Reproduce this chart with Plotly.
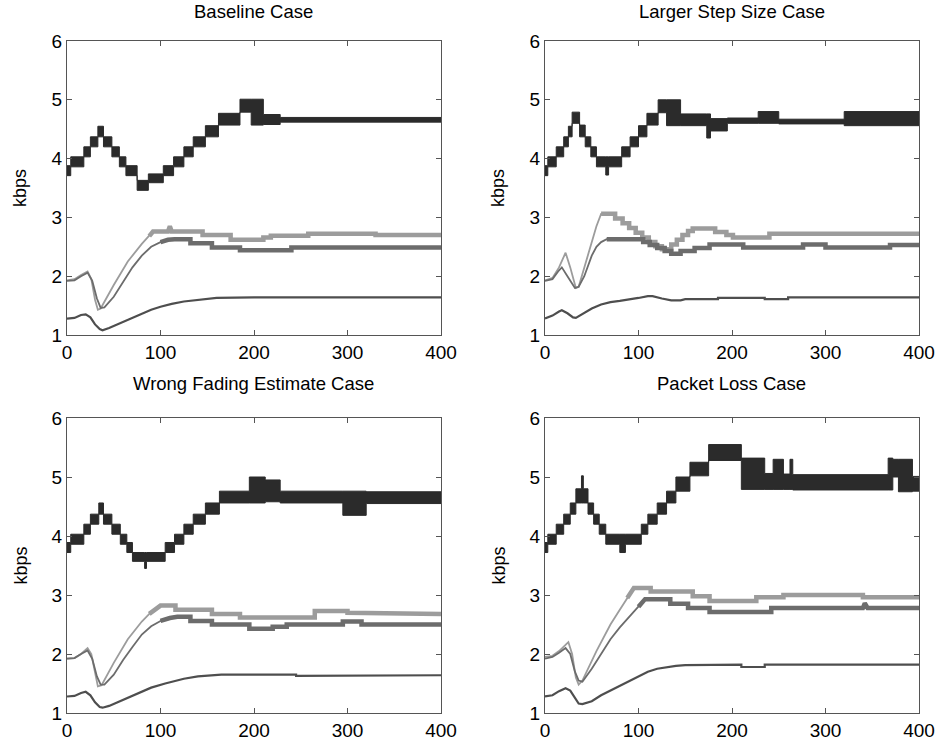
import plotly.graph_objects as go
import numpy as np

FONT = "Liberation Sans, Arial, Helvetica, sans-serif"
XMAX = 400
titles = ["Baseline Case", "Larger Step Size Case", "Wrong Fading Estimate Case", "Packet Loss Case"]
x_ticks = [0, 100, 200, 300, 400]
y_ticks = [1, 2, 3, 4, 5, 6]
y_label = "kbps"

# ---------------- Baseline Case ----------------
base_top_x  = [0, 4, 18, 25, 33, 39, 48, 56, 63, 75, 87, 103, 114, 125, 135, 148, 162, 185, 197, 210, 228]
base_top_lo = [3.71, 3.86, 4.03, 4.20, 4.37, 4.20, 4.03, 3.86, 3.71, 3.46, 3.59, 3.71, 3.86, 4.03, 4.20, 4.37, 4.57, 4.79, 4.57, 4.58, 4.62]
base_top_hi = [3.88, 4.03, 4.20, 4.37, 4.55, 4.37, 4.20, 4.03, 3.88, 3.63, 3.74, 3.88, 4.03, 4.20, 4.37, 4.56, 4.77, 5.01, 5.01, 4.75, 4.70]
base_light_x = [0, 8, 15, 22, 26, 30, 33, 36, 50, 65, 80, 88, 92, 108, 110, 112, 145, 145, 175, 175, 210, 210, 218, 218, 258, 258, 330, 330, 400]
base_light_y = [1.93, 1.95, 2.02, 2.08, 1.95, 1.60, 1.43, 1.45, 1.85, 2.25, 2.55, 2.68, 2.76, 2.76, 2.85, 2.76, 2.76, 2.70, 2.70, 2.62, 2.62, 2.66, 2.66, 2.69, 2.69, 2.72, 2.72, 2.70, 2.70]
base_mid_x = [0, 8, 15, 22, 27, 32, 36, 40, 50, 60, 70, 80, 90, 100, 108, 115, 132, 132, 155, 155, 185, 185, 240, 240, 400]
base_mid_y = [1.92, 1.93, 2.00, 2.06, 1.92, 1.62, 1.46, 1.47, 1.65, 1.90, 2.15, 2.35, 2.50, 2.58, 2.62, 2.63, 2.63, 2.56, 2.56, 2.49, 2.49, 2.44, 2.44, 2.49, 2.49]
base_low_x = [0, 8, 15, 20, 25, 30, 35, 38, 45, 60, 75, 90, 100, 112, 125, 140, 160, 200, 400]
base_low_y = [1.28, 1.29, 1.34, 1.35, 1.30, 1.18, 1.10, 1.08, 1.12, 1.22, 1.33, 1.43, 1.48, 1.53, 1.57, 1.60, 1.63, 1.64, 1.64]

# ---------------- Larger Step Size Case ----------------
step_top_x  = [0, 3, 12, 20, 25, 29, 37, 43, 49, 55, 65, 68, 82, 91, 100, 109, 121, 130, 145, 173, 177, 195, 228, 250, 320]
step_top_lo = [3.71, 3.86, 4.03, 4.20, 4.37, 4.60, 4.37, 4.20, 4.03, 3.86, 3.72, 3.86, 4.03, 4.20, 4.37, 4.57, 4.78, 4.56, 4.56, 4.35, 4.47, 4.60, 4.60, 4.59, 4.56]
step_top_hi = [3.88, 4.03, 4.20, 4.37, 4.55, 4.79, 4.57, 4.37, 4.20, 4.03, 4.03, 4.03, 4.20, 4.37, 4.56, 4.77, 5.00, 5.00, 4.76, 4.76, 4.68, 4.69, 4.80, 4.67, 4.80]
step_light_x = [0, 8, 15, 22, 27, 33, 36, 45, 55, 60, 75, 75, 83, 83, 90, 90, 97, 97, 104, 104, 111, 111, 118, 118, 125, 125, 135, 135, 141, 141, 147, 147, 153, 153, 158, 158, 182, 182, 194, 194, 201, 201, 240, 240, 400]
step_light_y = [1.93, 1.97, 2.15, 2.40, 2.15, 1.80, 1.82, 2.30, 2.85, 3.06, 3.06, 2.98, 2.98, 2.90, 2.90, 2.82, 2.82, 2.74, 2.74, 2.66, 2.66, 2.58, 2.58, 2.51, 2.51, 2.46, 2.46, 2.54, 2.54, 2.62, 2.62, 2.70, 2.70, 2.77, 2.77, 2.81, 2.81, 2.75, 2.75, 2.70, 2.70, 2.66, 2.66, 2.72, 2.72]
step_mid_x = [0, 8, 14, 18, 24, 32, 36, 42, 50, 55, 60, 66, 100, 105, 105, 112, 112, 120, 120, 128, 128, 135, 135, 145, 145, 160, 160, 176, 176, 212, 212, 276, 276, 300, 300, 369, 369, 400]
step_mid_y = [1.92, 1.95, 2.08, 2.15, 2.00, 1.80, 1.82, 2.00, 2.35, 2.50, 2.58, 2.63, 2.63, 2.63, 2.58, 2.58, 2.53, 2.53, 2.48, 2.48, 2.43, 2.43, 2.38, 2.38, 2.43, 2.43, 2.48, 2.48, 2.54, 2.54, 2.49, 2.49, 2.54, 2.54, 2.49, 2.49, 2.53, 2.53]
step_low_x = [0, 8, 15, 18, 24, 30, 33, 40, 50, 60, 70, 80, 90, 100, 110, 115, 125, 135, 145, 150, 185, 185, 235, 235, 260, 260, 400]
step_low_y = [1.28, 1.33, 1.40, 1.42, 1.37, 1.30, 1.29, 1.35, 1.45, 1.52, 1.56, 1.58, 1.60, 1.63, 1.66, 1.66, 1.62, 1.59, 1.59, 1.61, 1.61, 1.63, 1.63, 1.61, 1.61, 1.64, 1.64]

# ---------------- Wrong Fading Estimate Case ----------------
fade_top_x  = [0, 4, 18, 25, 34, 39, 48, 57, 64, 70, 83, 85, 105, 115, 125, 135, 148, 163, 195, 212, 228, 295, 320]
fade_top_lo = [3.72, 3.86, 4.03, 4.20, 4.37, 4.20, 4.03, 3.86, 3.72, 3.57, 3.45, 3.57, 3.72, 3.86, 4.03, 4.20, 4.37, 4.56, 4.56, 4.58, 4.56, 4.35, 4.55]
fade_top_hi = [3.89, 4.03, 4.20, 4.37, 4.56, 4.37, 4.20, 4.03, 3.89, 3.72, 3.72, 3.72, 3.89, 4.03, 4.20, 4.37, 4.56, 4.76, 5.00, 4.95, 4.76, 4.76, 4.75]
fade_light_x = [0, 8, 15, 22, 26, 30, 33, 37, 50, 65, 80, 88, 95, 100, 116, 116, 155, 155, 185, 185, 265, 265, 300, 300, 400]
fade_light_y = [1.92, 1.93, 2.00, 2.10, 2.00, 1.65, 1.45, 1.47, 1.85, 2.25, 2.55, 2.68, 2.77, 2.82, 2.82, 2.75, 2.75, 2.68, 2.68, 2.62, 2.62, 2.73, 2.73, 2.70, 2.68]
fade_mid_x = [0, 8, 15, 22, 27, 32, 36, 40, 50, 60, 70, 80, 90, 100, 110, 118, 132, 132, 155, 155, 195, 195, 220, 220, 235, 235, 295, 295, 315, 315, 400]
fade_mid_y = [1.92, 1.93, 2.00, 2.06, 1.92, 1.62, 1.48, 1.48, 1.65, 1.90, 2.12, 2.33, 2.47, 2.56, 2.61, 2.63, 2.63, 2.56, 2.56, 2.50, 2.50, 2.43, 2.43, 2.46, 2.46, 2.50, 2.50, 2.55, 2.55, 2.50, 2.50]
fade_low_x = [0, 8, 15, 20, 25, 30, 35, 38, 45, 60, 75, 90, 105, 115, 125, 140, 165, 245, 245, 400]
fade_low_y = [1.28, 1.29, 1.34, 1.36, 1.30, 1.18, 1.10, 1.09, 1.12, 1.22, 1.33, 1.43, 1.50, 1.54, 1.58, 1.62, 1.65, 1.65, 1.63, 1.64]

# ---------------- Packet Loss Case ----------------
loss_top_x  = [0, 3, 12, 20, 27, 33, 39, 41, 46, 52, 58, 65, 80, 86, 103, 110, 120, 130, 140, 155, 175, 210, 235, 244, 255, 262, 265, 367, 372, 378, 393]
loss_top_lo = [3.72, 3.86, 4.03, 4.20, 4.37, 4.56, 4.56, 4.56, 4.37, 4.20, 4.03, 3.86, 3.72, 3.86, 4.03, 4.20, 4.37, 4.56, 4.76, 5.02, 5.28, 4.79, 4.79, 4.79, 4.79, 4.79, 4.78, 4.78, 5.00, 4.75, 4.76]
loss_top_hi = [3.89, 4.03, 4.20, 4.37, 4.56, 4.80, 5.02, 4.80, 4.56, 4.37, 4.20, 4.03, 4.03, 4.03, 4.20, 4.37, 4.56, 4.76, 5.00, 5.25, 5.55, 5.32, 5.06, 5.30, 5.05, 5.30, 5.04, 5.32, 5.30, 5.30, 5.01]
loss_light_x = [0, 8, 15, 25, 29, 33, 36, 40, 55, 70, 80, 88, 92, 95, 113, 113, 158, 158, 176, 176, 226, 226, 255, 255, 340, 340, 400]
loss_light_y = [1.95, 1.97, 2.05, 2.20, 2.00, 1.60, 1.48, 1.55, 2.05, 2.50, 2.75, 2.95, 3.05, 3.12, 3.12, 3.06, 3.06, 2.98, 2.98, 2.90, 2.90, 2.96, 2.96, 3.00, 3.00, 2.96, 2.96]
loss_mid_x = [0, 8, 15, 22, 27, 32, 36, 40, 50, 60, 70, 80, 90, 100, 107, 134, 134, 153, 153, 176, 176, 242, 242, 340, 342, 345, 400]
loss_mid_y = [1.92, 1.95, 2.02, 2.10, 2.00, 1.70, 1.55, 1.53, 1.75, 2.00, 2.25, 2.45, 2.63, 2.80, 2.93, 2.93, 2.85, 2.85, 2.78, 2.78, 2.71, 2.71, 2.78, 2.78, 2.86, 2.78, 2.78]
loss_low_x = [0, 8, 15, 22, 27, 32, 36, 40, 50, 60, 75, 90, 100, 110, 120, 130, 140, 150, 210, 210, 235, 235, 400]
loss_low_y = [1.28, 1.30, 1.37, 1.42, 1.38, 1.25, 1.16, 1.15, 1.20, 1.30, 1.42, 1.55, 1.63, 1.70, 1.75, 1.78, 1.80, 1.81, 1.82, 1.78, 1.78, 1.82, 1.82]

panels = [
    (base_top_x, base_top_lo, base_top_hi, base_light_x, base_light_y, base_mid_x, base_mid_y, base_low_x, base_low_y),
    (step_top_x, step_top_lo, step_top_hi, step_light_x, step_light_y, step_mid_x, step_mid_y, step_low_x, step_low_y),
    (fade_top_x, fade_top_lo, fade_top_hi, fade_light_x, fade_light_y, fade_mid_x, fade_mid_y, fade_low_x, fade_low_y),
    (loss_top_x, loss_top_lo, loss_top_hi, loss_light_x, loss_light_y, loss_mid_x, loss_mid_y, loss_low_x, loss_low_y),
]
# x from which the gray curves are drawn as thick plateau bands
thick_from = [(88, 100), (58, 62), (88, 100), (88, 100)]

W, H = 939, 747
# plot boxes in pixels: (left, right, top, bottom) and title centre y
boxes = [(67, 441, 41, 335), (545, 919, 41, 335), (67, 441, 418, 713), (545, 919, 418, 713)]
title_y = [12, 12, 383, 383]

DARK = "#2b2b2b"
LIGHT = "#9c9c9c"
MID = "#6c6c6c"
LOW = "#4e4e4e"

fig = go.Figure()
annotations = []
layout_axes = {}

for i, (p, box) in enumerate(zip(panels, boxes)):
    tx, tlo, thi, lx, ly, mx, my, wx, wy = p
    n = "" if i == 0 else str(i + 1)
    xa, ya = "x" + n, "y" + n
    sx = list(tx) + [XMAX]
    slo = list(tlo) + [tlo[-1]]
    shi = list(thi) + [thi[-1]]
    fig.add_trace(go.Scatter(x=sx, y=slo, mode="lines", line=dict(color=DARK, width=1, shape="hv"),
                             xaxis=xa, yaxis=ya, showlegend=False, hoverinfo="skip"))
    fig.add_trace(go.Scatter(x=sx, y=shi, mode="lines", line=dict(color=DARK, width=1, shape="hv"),
                             fill="tonexty", fillcolor=DARK, xaxis=xa, yaxis=ya, showlegend=False, hoverinfo="skip"))
    for gx, gy, col, thr in [(lx, ly, LIGHT, thick_from[i][0]), (mx, my, MID, thick_from[i][1])]:
        gx = np.array(gx, float)
        gy = np.array(gy, float)
        fig.add_trace(go.Scatter(x=gx, y=gy, mode="lines", line=dict(color=col, width=1.8),
                                 xaxis=xa, yaxis=ya, showlegend=False, hoverinfo="skip"))
        m = gx >= thr
        fig.add_trace(go.Scatter(x=gx[m], y=gy[m], mode="lines", line=dict(color=col, width=4.5),
                                 xaxis=xa, yaxis=ya, showlegend=False, hoverinfo="skip"))
    fig.add_trace(go.Scatter(x=wx, y=wy, mode="lines", line=dict(color=LOW, width=2.2),
                             xaxis=xa, yaxis=ya, showlegend=False, hoverinfo="skip"))

    l, r, t, b = box
    xdom = [l / W, r / W]
    ydom = [1 - b / H, 1 - t / H]
    common = dict(showgrid=False, zeroline=False, showline=True, linecolor="#555555", linewidth=1,
                  mirror="allticks", ticks="inside", ticklen=5, tickcolor="#555555",
                  tickfont=dict(size=19, color="black", family=FONT), fixedrange=True,
                  automargin=False)
    layout_axes["xaxis" + n] = dict(common, domain=xdom, range=[0, XMAX], tickvals=x_ticks, anchor=ya)
    layout_axes["yaxis" + n] = dict(common, domain=ydom, range=[1, 6], tickvals=y_ticks, anchor=xa)
    annotations.append(dict(text=titles[i], x=(xdom[0] + xdom[1]) / 2, y=1 - title_y[i] / H,
                            xref="paper", yref="paper", showarrow=False, xanchor="center",
                            yanchor="middle", font=dict(size=18.5, color="black", family=FONT)))
    annotations.append(dict(text=y_label, x=(l - 47) / W, y=1 - ((t + b) / 2) / H,
                            xref="paper", yref="paper", showarrow=False, textangle=-90,
                            xanchor="center", yanchor="middle",
                            font=dict(size=18, color="black", family=FONT)))

fig.update_layout(width=W, height=H, margin=dict(l=0, r=0, t=0, b=0, pad=0), autosize=False,
                  paper_bgcolor="white", plot_bgcolor="white", showlegend=False,
                  annotations=annotations, **layout_axes)

fig.write_html("out.html", config={"displayModeBar": False},
               post_script="document.body.style.margin='0';document.body.style.padding='0';")
